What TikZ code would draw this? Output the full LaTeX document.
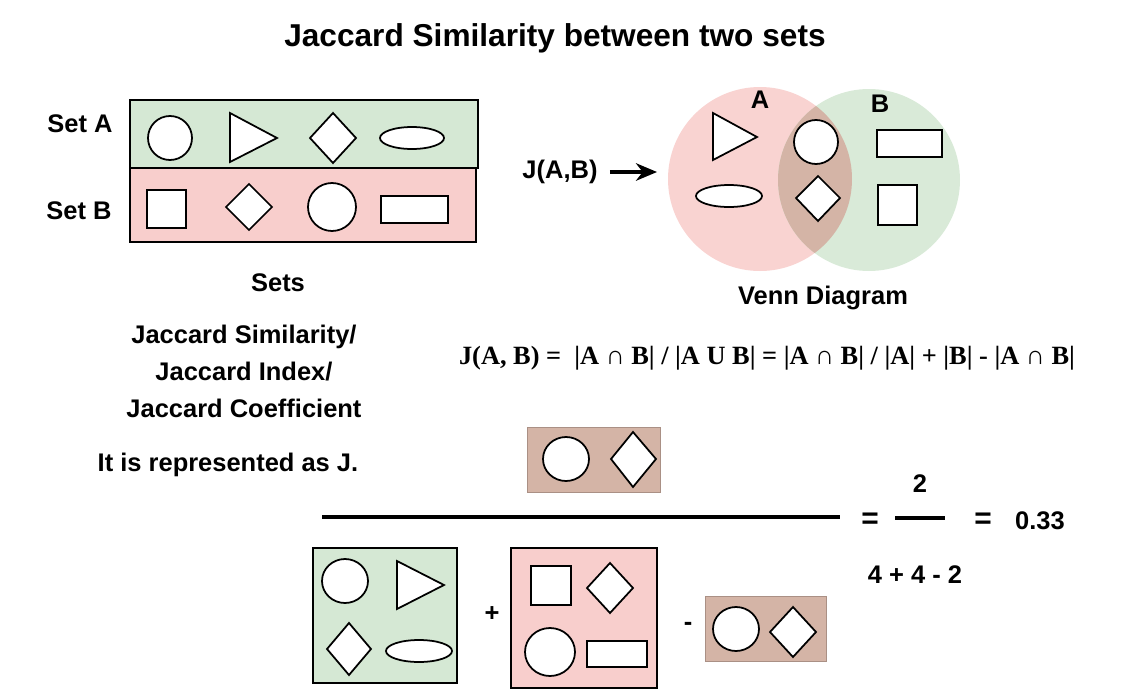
\documentclass[tikz,border=0pt]{standalone}
\usepackage{fontspec}
\setmainfont{Liberation Sans}
\newfontfamily\seriffont{Liberation Serif}
\usetikzlibrary{arrows.meta}
\definecolor{gA}{HTML}{D5E8D4}
\definecolor{pB}{HTML}{F8CECC}
\definecolor{br}{HTML}{D4B4A6}
\begin{document}
\begin{tikzpicture}[x=0.02cm,y=-0.02cm,
  sh/.style={draw=black,fill=white,line width=1pt},
  box/.style={draw=black,line width=1.1pt},
  lbl/.style={font=\bfseries\fontsize{14.5}{16}\selectfont,inner sep=0pt},
]
\useasboundingbox (0,0) rectangle (1144,697);
\node[font=\bfseries\fontsize{18}{20}\selectfont] (title) at (555,38) {Jaccard Similarity between two sets};
% sets
\draw[box,fill=gA] (130,100) rectangle (478,168);
\draw[box,fill=pB] (130,168) rectangle (476,242);
\node[lbl] (sa) at (80,124) {Set A};
\node[lbl] (sb) at (79,211) {Set B};
\draw[sh] (170,138) circle (22);
\draw[sh] (230,113) -- (230,162) -- (277,138) -- cycle;
\draw[sh] (310,138) -- (333,113) -- (356,138) -- (333,163) -- cycle;
\draw[sh] (412,138) ellipse (32 and 11);
\draw[sh] (147,190) rectangle (186,228);
\draw[sh] (226,207) -- (249,184) -- (272,207) -- (249,230) -- cycle;
\draw[sh] (332,207) circle (24);
\draw[sh] (381,196) rectangle (448,223);
\node[lbl] (sets) at (278,283) {Sets};
% Venn
\node[lbl] (j) at (560,172) {J(A,B)};
\coordinate (ve) at (657,172);
\draw[line width=1.8pt,-{Stealth[length=12pt,width=10pt]}] (j.east) ++(12,0) -- (ve);
\fill[pB,opacity=0.9] (760,179) circle (92);
\fill[gA,opacity=0.9] (869,180) circle (91);
\begin{scope}
\clip (760,179) circle (92);
\fill[br] (869,180) circle (91);
\end{scope}
\node[lbl] (la) at (760,100) {A};
\node[lbl] (lb) at (880,104) {B};
\draw[sh] (713,113) -- (713,160) -- (757,137) -- cycle;
\draw[sh] (729,196) ellipse (33 and 11);
\draw[sh] (816,142) circle (22);
\draw[sh] (796,198) -- (818,176) -- (840,198) -- (818,221) -- cycle;
\draw[sh] (877,130) rectangle (942,157);
\draw[sh] (878,185) rectangle (917,225);
\node[lbl] (vd) at (823,298) {Venn Diagram};
% left texts
\node[lbl,align=center] (def) at (244,371) {Jaccard Similarity/\\[5pt]Jaccard Index/\\[5pt]Jaccard Coefficient};
\node[lbl] (rep) at (228,465) {It is represented as J.};
\node[font=\seriffont\bfseries\fontsize{15}{17}\selectfont,inner sep=0pt] (form) at (767,358)
 {J(A, B) = \ |A ∩ B| / |A U B| = |A ∩ B| / |A| + |B| - |A ∩ B|};
% numerator
\draw[draw=br!80!black,fill=br] (527,427) rectangle (660,492);
\draw[sh] (566,459) ellipse (23 and 22);
\draw[sh] (611,459) -- (633,432) -- (656,459) -- (633,487) -- cycle;
\draw[line width=2.2pt] (322,517) -- (840,517);
% denominator
\draw[box,fill=gA] (313,548) rectangle (457,683);
\draw[sh] (345,581) ellipse (23 and 22);
\draw[sh] (397,561) -- (397,609) -- (444,585) -- cycle;
\draw[sh] (327,649) -- (349,623) -- (371,649) -- (349,675) -- cycle;
\draw[sh] (419,651) ellipse (33 and 11);
\node[lbl] (plus) at (492,614) {+};
\draw[box,fill=pB] (511,548) rectangle (657,688);
\draw[sh] (531,566) rectangle (571,605);
\draw[sh] (587,588) -- (610,563) -- (633,588) -- (610,613) -- cycle;
\draw[sh] (550,652) ellipse (25 and 24);
\draw[sh] (587,641) rectangle (647,667);
\node[lbl] (minus) at (688,626) {-};
\draw[draw=br!80!black,fill=br] (705,596) rectangle (826,661);
\draw[sh] (736,629) ellipse (23 and 22);
\draw[sh] (770,632) -- (793,607) -- (816,632) -- (793,657) -- cycle;
% result
\node[lbl,font=\bfseries\fontsize{17}{18}\selectfont] (eq1) at (870,521) {=};
\draw[line width=1.8pt] (895,518) -- (945,518);
\node[lbl] (two) at (920,484) {2};
\node[lbl] (den) at (915,575) {4 + 4 - 2};
\node[lbl,font=\bfseries\fontsize{17}{18}\selectfont] (eq2) at (983,521) {=};
\node[lbl] (res) at (1040,521) {0.33};
\end{tikzpicture}
\end{document}
